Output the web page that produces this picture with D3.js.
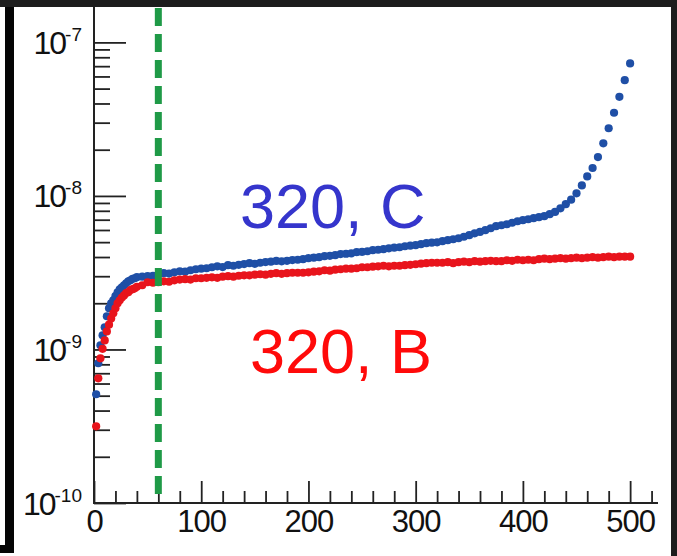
<!DOCTYPE html>
<html>
<head>
<meta charset="utf-8">
<script src="https://cdn.jsdelivr.net/npm/d3@7"></script>
<style>
body { margin: 0; background: #1d1d1d; }
svg { display: block; }
</style>
</head>
<body>
<script>
// x positions of the points
const xVals = [2, 4, 6, 8, 10, 12, 14, 16, 18, 20, 22, 24, 26, 28, 30, 32, 34, 36, 38, 40,
  45, 50, 55, 60, 65, 70, 75, 80, 85, 90, 95, 100,
  105, 110, 115, 120, 125, 130, 135, 140, 145, 150, 155, 160, 165, 170, 175, 180, 185, 190, 195, 200,
  205, 210, 215, 220, 225, 230, 235, 240, 245, 250, 255, 260, 265, 270, 275, 280, 285, 290, 295, 300,
  305, 310, 315, 320, 325, 330, 335, 340, 345, 350, 355, 360, 365, 370, 375, 380, 385, 390, 395, 400,
  405, 410, 415, 420, 425, 430, 435, 440, 445, 450, 455, 460, 465, 470, 475, 480, 485, 490, 495, 500];

// values in units of 1e-9
const seriesC = [0.511, 0.813, 1.065, 1.236, 1.395, 1.646, 1.855, 2.00, 2.092, 2.222, 2.358, 2.467, 2.542, 2.619, 2.700, 2.782, 2.824, 2.888, 2.91, 2.955,
  2.98, 3.00, 3.02, 3.09, 3.14, 3.12, 3.18, 3.23, 3.21, 3.28, 3.33, 3.36,
  3.38, 3.43, 3.48, 3.44, 3.54, 3.51, 3.56, 3.60, 3.65, 3.61, 3.67, 3.71, 3.73, 3.77, 3.75, 3.78, 3.82, 3.84, 3.87, 3.93,
  3.96, 3.99, 4.05, 4.07, 4.11, 4.18, 4.20, 4.23, 4.30, 4.32, 4.36, 4.43, 4.46, 4.50, 4.56, 4.60, 4.63, 4.70, 4.74, 4.78,
  4.85, 4.92, 4.96, 4.99, 5.07, 5.15, 5.22, 5.30, 5.42, 5.55, 5.71, 5.83, 5.98, 6.16, 6.35, 6.44, 6.54, 6.69, 6.84, 6.95,
  7.05, 7.16, 7.27, 7.38, 7.60, 7.87, 8.30, 8.83, 9.45, 10.4, 11.7, 13.4, 15.2, 17.9, 22.0, 27.6, 34.8, 44.2, 56.7, 72.9];

const seriesB = [0.316, 0.649, 0.876, 1.01, 1.145, 1.31, 1.45, 1.59, 1.72, 1.855, 2.00, 2.09, 2.18, 2.25, 2.33, 2.36, 2.44, 2.47, 2.50, 2.56,
  2.62, 2.74, 2.72, 2.74, 2.78, 2.76, 2.82, 2.85, 2.87, 2.85, 2.91, 2.91,
  2.93, 2.95, 2.93, 2.98, 3.00, 2.98, 3.02, 3.04, 3.04, 3.07, 3.09, 3.07, 3.11, 3.14, 3.11, 3.14, 3.16, 3.16, 3.16, 3.18,
  3.21, 3.23, 3.28, 3.26, 3.31, 3.33, 3.36, 3.36, 3.38, 3.43, 3.43, 3.46, 3.48, 3.51, 3.48, 3.51, 3.51, 3.54, 3.56, 3.59,
  3.62, 3.65, 3.67, 3.67, 3.67, 3.70, 3.65, 3.70, 3.73, 3.70, 3.76, 3.73, 3.76, 3.78, 3.76, 3.76, 3.81, 3.78, 3.84, 3.81,
  3.84, 3.81, 3.87, 3.90, 3.87, 3.90, 3.93, 3.90, 3.93, 3.96, 3.93, 3.96, 3.99, 3.96, 3.99, 4.02, 3.99, 4.02, 4.02, 4.02];

const unit = 1e-9;
const cutX = 60;
const seriesNames = ['320, C', '320, B'];
const xTicks = [0, 100, 200, 300, 400, 500];
const yTicks = [1e-10, 1e-9, 1e-8, 1e-7];
const yExp = ['-10', '-9', '-8', '-7'];

const W = 677, H = 556;
const svg = d3.select(document.body).append('svg')
  .attr('width', W).attr('height', H);

// frame of the photo
svg.append('rect').attr('width', W).attr('height', H).attr('fill', '#1d1d1d');
svg.append('rect').attr('x', 0).attr('y', 7).attr('width', 671).attr('height', H - 7).attr('fill', '#fff');
svg.append('rect').attr('x', 5).attr('y', 7).attr('width', 9).attr('height', 546).attr('fill', '#050505');
svg.append('rect').attr('x', 0).attr('y', 545).attr('width', 14).attr('height', 8).attr('fill', '#050505');

const x = d3.scaleLinear().domain([0, 526]).range([94, 658]);
const y = d3.scaleLog().domain([1e-10, 1.7e-7]).range([503, 7]);

const font = "'Liberation Sans', Arial, Helvetica, sans-serif";

// y ticks (inside)
const yMinor = [];
[1e-10, 1e-9, 1e-8].forEach(function(d){
  for (let k = 2; k <= 9; k++) yMinor.push(d * k);
});
svg.append('g').attr('transform', 'translate(94,0)')
  .call(d3.axisRight(y).tickValues(yMinor).tickSize(16).tickSizeOuter(0).tickFormat(''))
  .call(g => g.select('.domain').remove());

const yAx = svg.append('g').attr('transform', 'translate(94,0)')
  .call(d3.axisLeft(y).tickValues(yTicks).tickSizeInner(-32).tickSizeOuter(0).tickPadding(12))
  .call(g => g.select('.domain').remove());
yAx.selectAll('.tick text').each(function(d, i){
  const t = d3.select(this).text(null)
    .attr('dy', null).attr('y', 11)
    .style('font-family', font).style('font-size', '32px').attr('fill', '#111')
    .attr('letter-spacing', '-2');
  t.append('tspan').text('10');
  t.append('tspan').attr('dy', -13).style('font-size', '19px').attr('letter-spacing', '0').text(yExp[i]);
});

// x ticks (inside)
const xMinor = d3.range(20, 521, 20).filter(d => d % 100 !== 0);
svg.append('g').attr('transform', 'translate(0,503)')
  .call(d3.axisBottom(x).tickValues(xMinor).tickSizeInner(-12).tickSizeOuter(0).tickFormat(''))
  .call(g => g.select('.domain').remove());
const xAx = svg.append('g').attr('transform', 'translate(0,503)')
  .call(d3.axisBottom(x).tickValues(xTicks).tickSizeInner(-22).tickSizeOuter(0).tickPadding(7));
xAx.select('.domain').remove();
xAx.selectAll('.tick text')
  .style('font-family', font).style('font-size', '31px').attr('fill', '#111')
  .attr('letter-spacing', '-1');

svg.selectAll('.tick line').attr('stroke', '#222').attr('stroke-width', 1.8);

// axis lines
svg.append('line').attr('x1', 94).attr('x2', 94).attr('y1', 7).attr('y2', 503)
  .attr('stroke', '#222').attr('stroke-width', 2);
svg.append('line').attr('x1', 93).attr('x2', 658).attr('y1', 503).attr('y2', 503)
  .attr('stroke', '#222').attr('stroke-width', 2);

// points
const ptsC = xVals.map((d, i) => ({x: d, v: seriesC[i] * unit}));
const ptsB = xVals.map((d, i) => ({x: d, v: seriesB[i] * unit}));

svg.append('g').selectAll('circle').data(ptsC).enter().append('circle')
  .attr('cx', d => x(d.x)).attr('cy', d => y(d.v)).attr('r', 4.1)
  .attr('fill', '#1f4fa6');
svg.append('g').selectAll('circle').data(ptsB).enter().append('circle')
  .attr('cx', d => x(d.x)).attr('cy', d => y(d.v)).attr('r', 4.1)
  .attr('fill', '#e8141c');

// cut line
svg.append('line')
  .attr('x1', x(cutX)).attr('x2', x(cutX)).attr('y1', 8).attr('y2', 500)
  .attr('stroke', '#1f9a47').attr('stroke-width', 7)
  .attr('stroke-dasharray', '18,8');

// series labels
svg.append('text').attr('x', 240).attr('y', 228)
  .style('font-family', font).style('font-size', '63px')
  .attr('fill', '#3535cc').text(seriesNames[0]);
svg.append('text').attr('x', 250).attr('y', 373)
  .style('font-family', font).style('font-size', '63px')
  .attr('fill', '#ff0a0a').text(seriesNames[1]);
</script>
</body>
</html>
